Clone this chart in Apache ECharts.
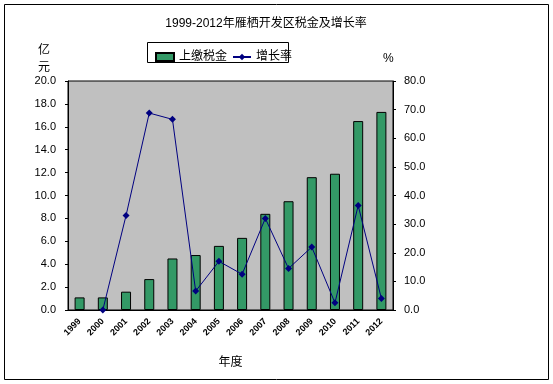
<!DOCTYPE html>
<html><head><meta charset="utf-8">
<script src="https://cdn.jsdelivr.net/npm/echarts@6/dist/echarts.min.js"></script>
<style>html,body{margin:0;padding:0;background:#fff}#c{width:553px;height:384px}</style>
</head><body><div id="c"></div>
<script>
var years = ['1999','2000','2001','2002','2003','2004','2005','2006','2007','2008','2009','2010','2011','2012'];
var taxValues = [1.1, 1.1, 1.6, 2.7, 4.5, 4.8, 5.6, 6.3, 8.4, 9.5, 11.6, 11.9, 16.5, 17.3];
var growthRates = [null, 0.0, 33.0, 68.8, 66.6, 6.6, 17.0, 12.5, 32.0, 14.5, 22.0, 2.5, 36.5, 4.0];
var leftTicks = [0, 20, 2];
var rightTicks = [0, 80, 10];

var chart = echarts.init(document.getElementById('c'));
var ff = 'Arial, "Liberation Sans", "Noto Sans CJK SC", sans-serif';
chart.setOption({
  animation: false,
  backgroundColor: '#fff',
  textStyle: {fontFamily: ff},
  title: {
    text: '1999-2012年雁栖开发区税金及增长率',
    left: 261, top: 13, textAlign: 'center',
    textStyle: {fontSize: 12, fontWeight: 'normal', color: '#000', fontFamily: ff}
  },
  graphic: [
    {type: 'rect', shape: {x: 4.5, y: 4.5, width: 544, height: 375}, style: {fill: 'none', stroke: '#000', lineWidth: 1}, z: -1},
    {type: 'rect', shape: {x: 147.5, y: 42.5, width: 141, height: 20}, style: {fill: '#fff', stroke: '#000', lineWidth: 1}, z: 0},
    {type: 'text', left: 38, top: 42, style: {text: '亿\n元', font: '12px ' + ff, fill: '#000', lineHeight: 17}},
    {type: 'text', left: 383, top: 53, style: {text: '%', font: '12px ' + ff, fill: '#000'}}
  ],
  legend: {
    left: 150, top: 46, itemGap: 5, itemWidth: 18, itemHeight: 8,
    textStyle: {fontSize: 12, color: '#000', fontFamily: ff},
    data: [
      {name: '上缴税金', icon: 'rect'},
      {name: '增长率'}
    ]
  },
  grid: {left: 68, right: 160, top: 81, bottom: 74, show: true, backgroundColor: '#C0C0C0', borderColor: '#000', borderWidth: 1},
  xAxis: {
    type: 'category', data: years,
    name: '年度', nameLocation: 'middle', nameGap: 47,
    nameTextStyle: {fontSize: 12, color: '#000', fontFamily: ff},
    axisLine: {lineStyle: {color: '#000'}},
    axisTick: {inside: true, length: 3, lineStyle: {color: '#000'}},
    axisLabel: {rotate: 45, fontSize: 9, fontWeight: 'bold', color: '#000', margin: 10, interval: 0}
  },
  yAxis: [
    {
      type: 'value', min: leftTicks[0], max: leftTicks[1], interval: leftTicks[2],
      axisLine: {show: true, lineStyle: {color: '#000'}},
      axisTick: {show: true, length: 3, lineStyle: {color: '#000'}},
      splitLine: {show: false},
      axisLabel: {fontSize: 11, color: '#000', margin: 12, formatter: function(v){return v.toFixed(1);}}
    },
    {
      type: 'value', min: rightTicks[0], max: rightTicks[1], interval: rightTicks[2],
      axisLine: {show: true, lineStyle: {color: '#000'}},
      axisTick: {show: true, length: 3, lineStyle: {color: '#000'}},
      splitLine: {show: false},
      axisLabel: {fontSize: 11, color: '#000', margin: 11, formatter: function(v){return v.toFixed(1);}}
    }
  ],
  series: [
    {
      name: '上缴税金', type: 'bar', data: taxValues, barWidth: 10,
      itemStyle: {color: '#339966', borderColor: '#000', borderWidth: 1}
    },
    {
      name: '增长率', type: 'line', yAxisIndex: 1, data: growthRates,
      symbol: 'diamond', symbolSize: 7, connectNulls: false,
      lineStyle: {color: '#000080', width: 1},
      itemStyle: {color: '#000080'}
    }
  ]
});
</script></body></html>
